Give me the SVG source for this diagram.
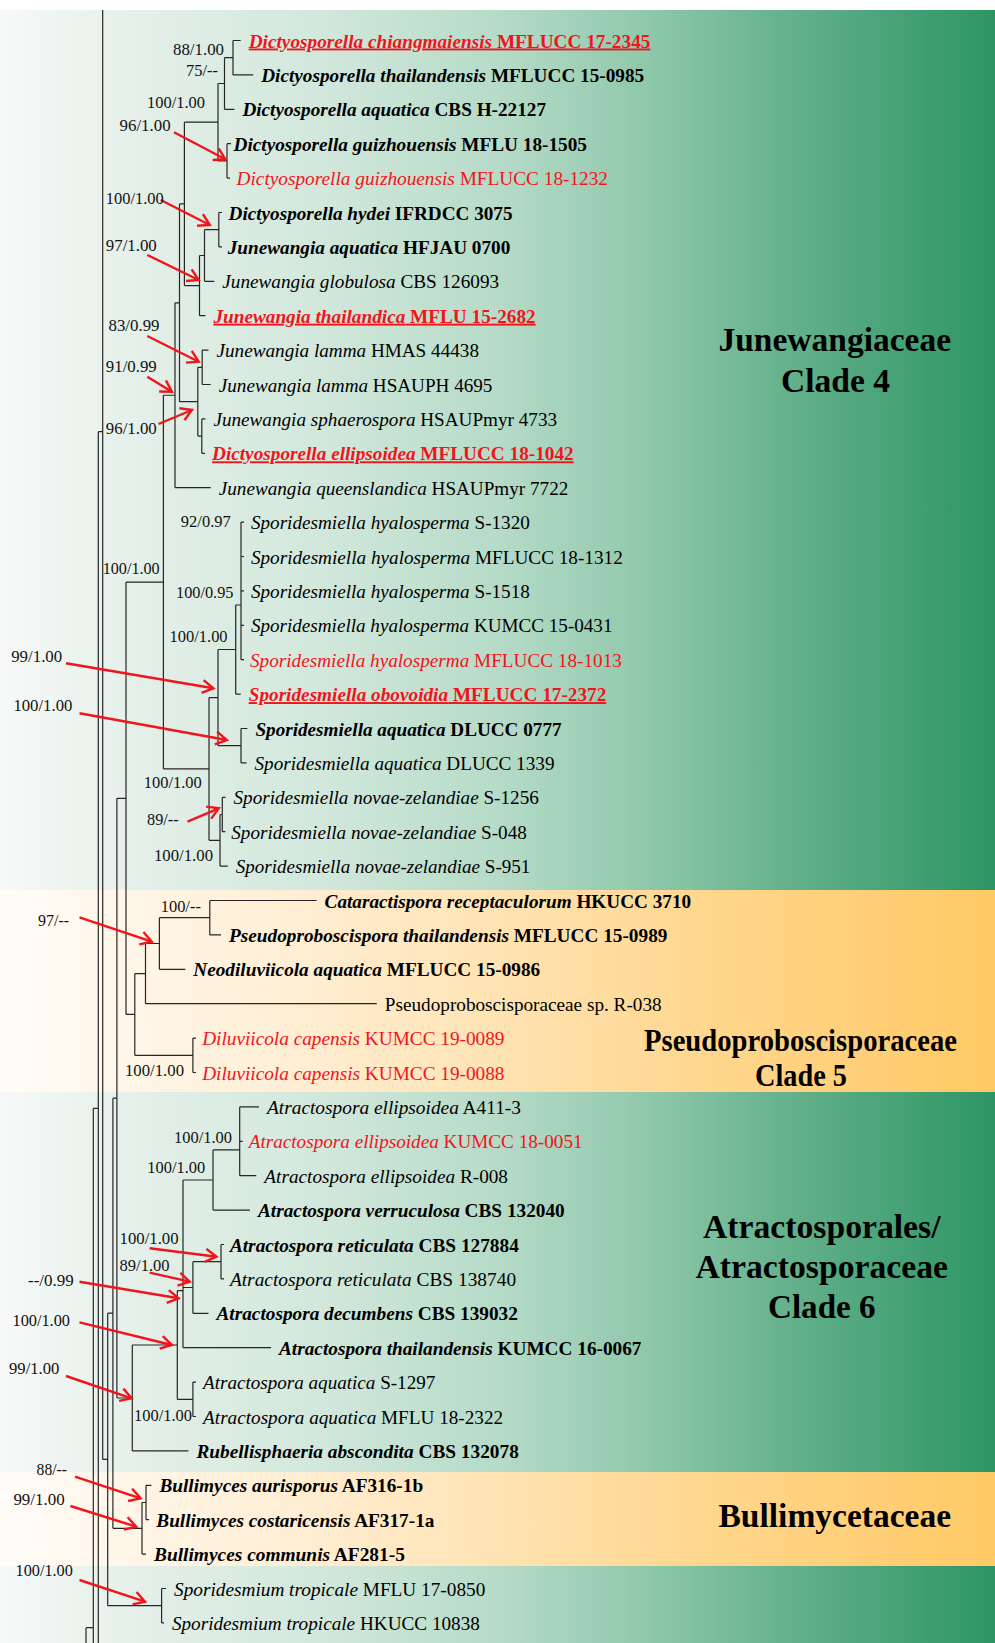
<svg xmlns="http://www.w3.org/2000/svg" width="995" height="1643" viewBox="0 0 995 1643">
<defs>
<linearGradient id="gG" x1="0" y1="0" x2="1" y2="0">
<stop offset="0" stop-color="#f7f9f8"/>
<stop offset="0.06" stop-color="#eef5f1"/>
<stop offset="0.15" stop-color="#e3efe8"/>
<stop offset="0.32" stop-color="#d2e8dc"/>
<stop offset="0.5" stop-color="#b6dbc8"/>
<stop offset="0.65" stop-color="#8fc8ab"/>
<stop offset="0.8" stop-color="#62b08a"/>
<stop offset="1" stop-color="#2d9564"/>
</linearGradient>
<linearGradient id="gY" x1="0" y1="0" x2="1" y2="0">
<stop offset="0" stop-color="#fffcf8"/>
<stop offset="0.1" stop-color="#fff7ec"/>
<stop offset="0.3" stop-color="#ffeed3"/>
<stop offset="0.5" stop-color="#ffe3b3"/>
<stop offset="0.7" stop-color="#ffd78f"/>
<stop offset="1" stop-color="#ffc965"/>
</linearGradient>
<marker id="ah" markerUnits="userSpaceOnUse" markerWidth="16" markerHeight="16" refX="12" refY="7.5" orient="auto">
<path d="M1,1 L12,7.5 L1,14" fill="none" stroke="#f2141c" stroke-width="2.4"/>
</marker>
<style>
.t{font-family:"Liberation Serif","Times New Roman",serif;font-size:19px;fill:#000}
.b{font-weight:bold}
.i{font-style:italic}
.r{fill:#f2141c}
.u{text-decoration:underline}
.s{font-family:"Liberation Serif","Times New Roman",serif;font-size:17px;fill:#111}
.c{font-family:"Liberation Serif","Times New Roman",serif;font-weight:bold;font-size:34px;fill:#000}
.tree{stroke:#262626;stroke-width:1.2;fill:none}
.arr{stroke:#f2141c;stroke-width:2.4;fill:none;marker-end:url(#ah)}
</style>
</defs>

<g id="background">
<rect x="0" y="0" width="995" height="1643" fill="#ffffff"/>
<rect x="0" y="10" width="995" height="880" fill="url(#gG)"/>
<rect x="0" y="890" width="995" height="202" fill="url(#gY)"/>
<rect x="0" y="1092" width="995" height="380" fill="url(#gG)"/>
<rect x="0" y="1472" width="995" height="94" fill="url(#gY)"/>
<rect x="0" y="1566" width="995" height="77" fill="url(#gG)"/>
</g>

<g id="connectors">
<g class="tree">
<path d="M102.7,10V1459.45 M98.3,431.7V1643 M93.3,1108.3V1643 M86,1627.7V1643 M98.3,431.7H102.7 M93.3,1108.3H98.3 M86,1627.7H93.3 M102.7,1459.45H107.7"/>
<path d="M107.7,1313.2V1605.7 M107.7,1313.2H112.9 M107.7,1605.7H161.6 M112.9,1098.15V1528.3 M112.9,1098.15H116.9 M112.9,1528.3H142 M116.9,798.3V1398 M116.9,798.3H126 M116.9,1398H132.3 M126,582.1V1014.45 M126,582.1H163.4 M126,1014.45H134.8"/>
<path d="M163.4,395.25V768.95 M163.4,395.25H175 M163.4,768.95H209 M175,302.8V487.7 M175,302.8H179.5 M175,487.7H210.8 M179.5,203.9V401.7 M179.5,203.9H184.4 M179.5,401.7H197.8 M184.4,122.2V285.6 M184.4,122.2H218 M184.4,285.6H199.5"/>
<path d="M218,83.5V160.9 M218,83.5H224.5 M218,160.9H227 M224.5,57.7V109.3 M224.5,57.7H233 M224.5,109.3H234.4 M233,40.5V74.9 M233,40.5H240.7 M233,74.9H253.2 M227,143.7V178.1 M227,143.7H231 M227,178.1H230"/>
<path d="M199.5,255.5V315.7 M199.5,255.5H204.5 M199.5,315.7H205.4 M204.5,229.7V281.3 M204.5,229.7H218.8 M204.5,281.3H214.3 M218.8,212.5V246.9 M218.8,212.5H222 M218.8,246.9H222"/>
<path d="M197.8,367.3V436.1 M197.8,367.3H202.2 M197.8,436.1H201.8 M202.2,350.1V384.5 M202.2,350.1H208.5 M202.2,384.5H210.8 M201.8,418.9V453.3 M201.8,418.9H205.4 M201.8,453.3H205"/>
<path d="M209,697.6V840.3 M209,697.6H218 M209,840.3H220 M218,649.5V745.7 M218,649.5H235.7 M218,745.7H241 M235.7,605V694.1 M235.7,605H241 M235.7,694.1H240.7 M241,522.1V659.7 M241,522.1H244 M241,556.5H244 M241,590.9H244 M241,625.3H244 M241,659.7H244 M241,728.5V762.9 M241,728.5H247.4 M241,762.9H246.5 M220,814.5V866.1 M220,814.5H222.3 M220,866.1H227.7 M222.3,797.3V831.7 M222.3,797.3H225.5 M222.3,831.7H225.3"/>
<path d="M134.8,973.6V1055.3 M134.8,973.6H145.5 M134.8,1055.3H192.9 M145.5,943.5V1003.7 M145.5,943.5H159.4 M145.5,1003.7H376.8 M159.4,917.7V969.3 M159.4,917.7H209.8 M159.4,969.3H185.3 M209.8,900.5V934.9 M209.8,900.5H316.6 M209.8,934.9H221 M192.9,1038.1V1072.5 M192.9,1038.1H196 M192.9,1072.5H196"/>
<path d="M132.3,1345V1450.9 M132.3,1345H177.3 M132.3,1450.9H188.4 M177.3,1290.7V1399.3 M177.3,1290.7H183 M177.3,1399.3H192.9 M183,1180V1347.7 M183,1180H213 M183,1287.5H192.9 M183,1347.7H271 M213,1149.9V1210.1 M213,1149.9H239.7 M213,1210.1H250 M239.7,1106.9V1175.7 M239.7,1106.9H259 M239.7,1141.3H242.7 M239.7,1175.7H256.3 M192.9,1261.7V1313.3 M192.9,1261.7H221 M192.9,1313.3H208.5 M221,1244.5V1278.9 M221,1244.5H224 M221,1278.9H224 M192.9,1382.1V1416.5 M192.9,1382.1H196 M192.9,1416.5H196"/>
<path d="M142,1502.5V1554.1 M142,1502.5H146 M142,1554.1H146 M146,1485.3V1519.7 M146,1485.3H151.4 M146,1519.7H149 M161.6,1588.5V1622.9 M161.6,1588.5H166 M161.6,1622.9H164"/>
</g>
<g id="arrows" class="arr">
<line x1="174" y1="132.3" x2="225.4" y2="159.3"/>
<line x1="160.7" y1="200" x2="209.8" y2="225"/>
<line x1="147.3" y1="255" x2="198.7" y2="280"/>
<line x1="147.3" y1="336" x2="198.7" y2="361.7"/>
<line x1="147.3" y1="376.7" x2="171.9" y2="391.7"/>
<line x1="158.5" y1="424" x2="192" y2="410"/>
<line x1="66" y1="663.3" x2="213.4" y2="688.3"/>
<line x1="79.5" y1="713.3" x2="226.8" y2="740"/>
<line x1="187.5" y1="821.7" x2="218.8" y2="808.3"/>
<line x1="79.5" y1="917.3" x2="151.8" y2="941.7"/>
<line x1="149.6" y1="1248.3" x2="216.5" y2="1256.7"/>
<line x1="149.6" y1="1272.7" x2="189.7" y2="1281.7"/>
<line x1="79.5" y1="1281.7" x2="178.6" y2="1298.3"/>
<line x1="79.5" y1="1322.3" x2="171.9" y2="1345"/>
<line x1="66" y1="1376" x2="131.7" y2="1398.3"/>
<line x1="75" y1="1476.7" x2="140.6" y2="1498.3"/>
<line x1="70.5" y1="1506" x2="136.2" y2="1526.7"/>
<line x1="79.5" y1="1580" x2="145" y2="1601.7"/>
</g>
</g>

<g id="support-values" class="s">
<text x="173" y="54.5" textLength="51" lengthAdjust="spacingAndGlyphs">88/1.00</text>
<text x="186" y="76" textLength="32" lengthAdjust="spacingAndGlyphs">75/--</text>
<text x="147" y="108" textLength="58" lengthAdjust="spacingAndGlyphs">100/1.00</text>
<text x="119.6" y="130.5" textLength="51" lengthAdjust="spacingAndGlyphs">96/1.00</text>
<text x="105.8" y="203.8" textLength="58" lengthAdjust="spacingAndGlyphs">100/1.00</text>
<text x="105.8" y="250.5" textLength="51" lengthAdjust="spacingAndGlyphs">97/1.00</text>
<text x="108.5" y="331" textLength="51" lengthAdjust="spacingAndGlyphs">83/0.99</text>
<text x="105.8" y="371.5" textLength="51" lengthAdjust="spacingAndGlyphs">91/0.99</text>
<text x="105.8" y="433.5" textLength="51" lengthAdjust="spacingAndGlyphs">96/1.00</text>
<text x="180.8" y="527" textLength="50" lengthAdjust="spacingAndGlyphs">92/0.97</text>
<text x="102.7" y="574" textLength="57" lengthAdjust="spacingAndGlyphs">100/1.00</text>
<text x="176" y="597.5" textLength="57.5" lengthAdjust="spacingAndGlyphs">100/0.95</text>
<text x="169.6" y="642" textLength="58" lengthAdjust="spacingAndGlyphs">100/1.00</text>
<text x="11.2" y="662" textLength="51" lengthAdjust="spacingAndGlyphs">99/1.00</text>
<text x="13.4" y="711" textLength="59" lengthAdjust="spacingAndGlyphs">100/1.00</text>
<text x="143.8" y="787.5" textLength="58" lengthAdjust="spacingAndGlyphs">100/1.00</text>
<text x="147" y="824.8" textLength="31.6" lengthAdjust="spacingAndGlyphs">89/--</text>
<text x="154" y="861" textLength="59" lengthAdjust="spacingAndGlyphs">100/1.00</text>
<text x="38" y="925.5" textLength="31" lengthAdjust="spacingAndGlyphs">97/--</text>
<text x="160.7" y="912" textLength="40.2" lengthAdjust="spacingAndGlyphs">100/--</text>
<text x="125" y="1076" textLength="59" lengthAdjust="spacingAndGlyphs">100/1.00</text>
<text x="174" y="1143" textLength="58" lengthAdjust="spacingAndGlyphs">100/1.00</text>
<text x="147.3" y="1173" textLength="58" lengthAdjust="spacingAndGlyphs">100/1.00</text>
<text x="119.6" y="1243.8" textLength="59" lengthAdjust="spacingAndGlyphs">100/1.00</text>
<text x="119.6" y="1271" textLength="50" lengthAdjust="spacingAndGlyphs">89/1.00</text>
<text x="28" y="1285.5" textLength="45.7" lengthAdjust="spacingAndGlyphs">--/0.99</text>
<text x="12.5" y="1325.5" textLength="57.5" lengthAdjust="spacingAndGlyphs">100/1.00</text>
<text x="9" y="1373.8" textLength="50.4" lengthAdjust="spacingAndGlyphs">99/1.00</text>
<text x="134" y="1420.5" textLength="58" lengthAdjust="spacingAndGlyphs">100/1.00</text>
<text x="36.6" y="1474.8" textLength="30.4" lengthAdjust="spacingAndGlyphs">88/--</text>
<text x="13.4" y="1504.8" textLength="51.3" lengthAdjust="spacingAndGlyphs">99/1.00</text>
<text x="15.6" y="1576" textLength="57.2" lengthAdjust="spacingAndGlyphs">100/1.00</text>
</g>

<g id="taxa">
<g id="n01"><text class="t b r u" x="248.7" y="47.5" textLength="401.7" lengthAdjust="spacingAndGlyphs"><tspan class="i">Dictyosporella chiangmaiensis</tspan> MFLUCC 17-2345</text></g>
<g id="n02"><text class="t b" x="261.2" y="81.9" textLength="383" lengthAdjust="spacingAndGlyphs"><tspan class="i">Dictyosporella thailandensis</tspan> MFLUCC 15-0985</text></g>
<g id="n03"><text class="t b" x="242.4" y="116.3" textLength="303.6" lengthAdjust="spacingAndGlyphs"><tspan class="i">Dictyosporella aquatica</tspan> CBS H-22127</text></g>
<g id="n04"><text class="t b" x="233.5" y="150.7" textLength="353.5" lengthAdjust="spacingAndGlyphs"><tspan class="i">Dictyosporella guizhouensis</tspan> MFLU 18-1505</text></g>
<g id="n05"><text class="t r" x="236.6" y="185.1" textLength="371.4" lengthAdjust="spacingAndGlyphs"><tspan class="i">Dictyosporella guizhouensis</tspan> MFLUCC 18-1232</text></g>
<g id="n06"><text class="t b" x="228.6" y="219.5" textLength="283.9" lengthAdjust="spacingAndGlyphs"><tspan class="i">Dictyosporella hydei</tspan> IFRDCC 3075</text></g>
<g id="n07"><text class="t b" x="227.7" y="253.9" textLength="282.6" lengthAdjust="spacingAndGlyphs"><tspan class="i">Junewangia aquatica</tspan> HFJAU 0700</text></g>
<g id="n08"><text class="t" x="222.3" y="288.3" textLength="276.8" lengthAdjust="spacingAndGlyphs"><tspan class="i">Junewangia globulosa</tspan> CBS 126093</text></g>
<g id="n09"><text class="t b r u" x="213.4" y="322.7" textLength="322.3" lengthAdjust="spacingAndGlyphs"><tspan class="i">Junewangia thailandica</tspan> MFLU 15-2682</text></g>
<g id="n10"><text class="t" x="216.5" y="357.1" textLength="262.5" lengthAdjust="spacingAndGlyphs"><tspan class="i">Junewangia lamma</tspan> HMAS 44438</text></g>
<g id="n11"><text class="t" x="218.8" y="391.5" textLength="273.6" lengthAdjust="spacingAndGlyphs"><tspan class="i">Junewangia lamma</tspan> HSAUPH 4695</text></g>
<g id="n12"><text class="t" x="213.4" y="425.9" textLength="343.7" lengthAdjust="spacingAndGlyphs"><tspan class="i">Junewangia sphaerospora</tspan> HSAUPmyr 4733</text></g>
<g id="n13"><text class="t b r u" x="212" y="460.3" textLength="361.7" lengthAdjust="spacingAndGlyphs"><tspan class="i">Dictyosporella ellipsoidea</tspan> MFLUCC 18-1042</text></g>
<g id="n14"><text class="t" x="218.8" y="494.7" textLength="349.5" lengthAdjust="spacingAndGlyphs"><tspan class="i">Junewangia queenslandica</tspan> HSAUPmyr 7722</text></g>
<g id="n15"><text class="t" x="250.9" y="529.1" textLength="279" lengthAdjust="spacingAndGlyphs"><tspan class="i">Sporidesmiella hyalosperma</tspan> S-1320</text></g>
<g id="n16"><text class="t" x="250.9" y="563.5" textLength="371.9" lengthAdjust="spacingAndGlyphs"><tspan class="i">Sporidesmiella hyalosperma</tspan> MFLUCC 18-1312</text></g>
<g id="n17"><text class="t" x="250.9" y="597.9" textLength="279" lengthAdjust="spacingAndGlyphs"><tspan class="i">Sporidesmiella hyalosperma</tspan> S-1518</text></g>
<g id="n18"><text class="t" x="250.9" y="632.3" textLength="361.6" lengthAdjust="spacingAndGlyphs"><tspan class="i">Sporidesmiella hyalosperma</tspan> KUMCC 15-0431</text></g>
<g id="n19"><text class="t r" x="250" y="666.7" textLength="371.9" lengthAdjust="spacingAndGlyphs"><tspan class="i">Sporidesmiella hyalosperma</tspan> MFLUCC 18-1013</text></g>
<g id="n20"><text class="t b r u" x="248.7" y="701.1" textLength="357.6" lengthAdjust="spacingAndGlyphs"><tspan class="i">Sporidesmiella obovoidia</tspan> MFLUCC 17-2372</text></g>
<g id="n21"><text class="t b" x="255.4" y="735.5" textLength="306.2" lengthAdjust="spacingAndGlyphs"><tspan class="i">Sporidesmiella aquatica</tspan> DLUCC 0777</text></g>
<g id="n22"><text class="t" x="254.5" y="769.9" textLength="300" lengthAdjust="spacingAndGlyphs"><tspan class="i">Sporidesmiella aquatica</tspan> DLUCC 1339</text></g>
<g id="n23"><text class="t" x="233.5" y="804.3" textLength="305.3" lengthAdjust="spacingAndGlyphs"><tspan class="i">Sporidesmiella novae-zelandiae</tspan> S-1256</text></g>
<g id="n24"><text class="t" x="231.3" y="838.7" textLength="295.5" lengthAdjust="spacingAndGlyphs"><tspan class="i">Sporidesmiella novae-zelandiae</tspan> S-048</text></g>
<g id="n25"><text class="t" x="235.7" y="873.1" textLength="294.7" lengthAdjust="spacingAndGlyphs"><tspan class="i">Sporidesmiella novae-zelandiae</tspan> S-951</text></g>
<g id="n26"><text class="t b" x="324.6" y="907.5" textLength="366.5" lengthAdjust="spacingAndGlyphs"><tspan class="i">Cataractispora receptaculorum</tspan> HKUCC 3710</text></g>
<g id="n27"><text class="t b" x="229" y="941.9" textLength="438.4" lengthAdjust="spacingAndGlyphs"><tspan class="i">Pseudoproboscispora thailandensis</tspan> MFLUCC 15-0989</text></g>
<g id="n28"><text class="t b" x="193.3" y="976.3" textLength="346.9" lengthAdjust="spacingAndGlyphs"><tspan class="i">Neodiluviicola aquatica</tspan> MFLUCC 15-0986</text></g>
<g id="n29"><text class="t" x="384.8" y="1010.7" textLength="276.8" lengthAdjust="spacingAndGlyphs">Pseudoproboscisporaceae sp. R-038</text></g>
<g id="n30"><text class="t r" x="202.2" y="1045.1" textLength="302.3" lengthAdjust="spacingAndGlyphs"><tspan class="i">Diluviicola capensis</tspan> KUMCC 19-0089</text></g>
<g id="n31"><text class="t r" x="202.2" y="1079.5" textLength="302.3" lengthAdjust="spacingAndGlyphs"><tspan class="i">Diluviicola capensis</tspan> KUMCC 19-0088</text></g>
<g id="n32"><text class="t" x="267" y="1113.9" textLength="254" lengthAdjust="spacingAndGlyphs"><tspan class="i">Atractospora ellipsoidea</tspan> A411-3</text></g>
<g id="n33"><text class="t r" x="248.7" y="1148.3" textLength="333.9" lengthAdjust="spacingAndGlyphs"><tspan class="i">Atractospora ellipsoidea</tspan> KUMCC 18-0051</text></g>
<g id="n34"><text class="t" x="264.3" y="1182.7" textLength="243.7" lengthAdjust="spacingAndGlyphs"><tspan class="i">Atractospora ellipsoidea</tspan> R-008</text></g>
<g id="n35"><text class="t b" x="258" y="1217.1" textLength="306.7" lengthAdjust="spacingAndGlyphs"><tspan class="i">Atractospora verruculosa</tspan> CBS 132040</text></g>
<g id="n36"><text class="t b" x="229.9" y="1251.5" textLength="288.9" lengthAdjust="spacingAndGlyphs"><tspan class="i">Atractospora reticulata</tspan> CBS 127884</text></g>
<g id="n37"><text class="t" x="229.9" y="1285.9" textLength="286.2" lengthAdjust="spacingAndGlyphs"><tspan class="i">Atractospora reticulata</tspan> CBS 138740</text></g>
<g id="n38"><text class="t b" x="216.5" y="1320.3" textLength="301.4" lengthAdjust="spacingAndGlyphs"><tspan class="i">Atractospora decumbens</tspan> CBS 139032</text></g>
<g id="n39"><text class="t b" x="279" y="1354.7" textLength="362.5" lengthAdjust="spacingAndGlyphs"><tspan class="i">Atractospora thailandensis</tspan> KUMCC 16-0067</text></g>
<g id="n40"><text class="t" x="203.1" y="1389.1" textLength="232.2" lengthAdjust="spacingAndGlyphs"><tspan class="i">Atractospora aquatica</tspan> S-1297</text></g>
<g id="n41"><text class="t" x="203.1" y="1423.5" textLength="300" lengthAdjust="spacingAndGlyphs"><tspan class="i">Atractospora aquatica</tspan> MFLU 18-2322</text></g>
<g id="n42"><text class="t b" x="196.4" y="1457.9" textLength="322.4" lengthAdjust="spacingAndGlyphs"><tspan class="i">Rubellisphaeria abscondita</tspan> CBS 132078</text></g>
<g id="n43"><text class="t b" x="159.4" y="1492.3" textLength="263.8" lengthAdjust="spacingAndGlyphs"><tspan class="i">Bullimyces aurisporus</tspan> AF316-1b</text></g>
<g id="n44"><text class="t b" x="156.3" y="1526.7" textLength="278.1" lengthAdjust="spacingAndGlyphs"><tspan class="i">Bullimyces costaricensis</tspan> AF317-1a</text></g>
<g id="n45"><text class="t b" x="154" y="1561.1" textLength="250.9" lengthAdjust="spacingAndGlyphs"><tspan class="i">Bullimyces communis</tspan> AF281-5</text></g>
<g id="n46"><text class="t" x="174.1" y="1595.5" textLength="311.2" lengthAdjust="spacingAndGlyphs"><tspan class="i">Sporidesmium tropicale</tspan> MFLU 17-0850</text></g>
<g id="n47"><text class="t" x="171.9" y="1629.9" textLength="308" lengthAdjust="spacingAndGlyphs"><tspan class="i">Sporidesmium tropicale</tspan> HKUCC 10838</text></g>
</g>

<g id="clade-labels" class="c">
<text x="718.5" y="351" textLength="232.5" lengthAdjust="spacingAndGlyphs">Junewangiaceae</text>
<text x="781" y="391.5" textLength="109" lengthAdjust="spacingAndGlyphs">Clade 4</text>
<text x="644" y="1051" textLength="313" lengthAdjust="spacingAndGlyphs" font-size="31">Pseudoproboscisporaceae</text>
<text x="755" y="1085.5" textLength="92" lengthAdjust="spacingAndGlyphs" font-size="31">Clade 5</text>
<text x="703" y="1238" textLength="237.5" lengthAdjust="spacingAndGlyphs">Atractosporales/</text>
<text x="695.5" y="1277.5" textLength="252.5" lengthAdjust="spacingAndGlyphs">Atractosporaceae</text>
<text x="768" y="1318" textLength="107.6" lengthAdjust="spacingAndGlyphs">Clade 6</text>
<text x="718.5" y="1527" textLength="232.5" lengthAdjust="spacingAndGlyphs">Bullimycetaceae</text>
</g>
</svg>
